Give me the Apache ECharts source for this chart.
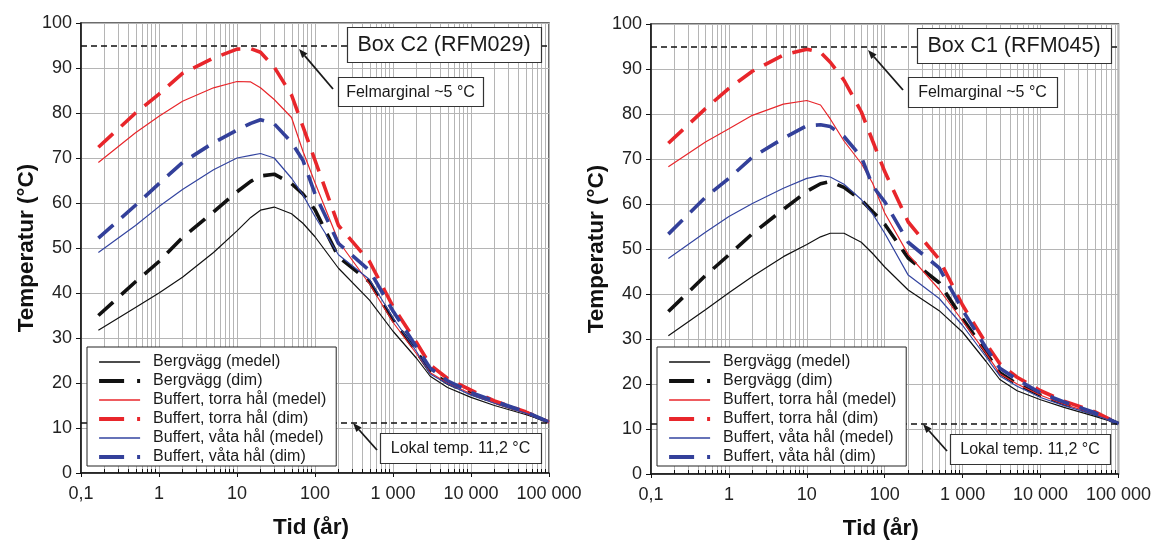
<!DOCTYPE html>
<html><head><meta charset="utf-8">
<script src="https://cdn.jsdelivr.net/npm/echarts@6/dist/echarts.min.js"></script>
<style>html,body{margin:0;padding:0;background:#fff}#c{width:1154px;height:545px}</style>
</head><body><div id="c"></div>
<script>
// ---- data ----
const times = [0.167, 0.5, 1, 2, 5, 10, 15, 20, 30, 50, 70, 100, 200, 500, 1000, 2000, 3000, 5000, 10000, 20000, 50000, 100000];
const seriesNames = ['Bergvägg (medel)', 'Bergvägg (dim)', 'Buffert, torra hål (medel)', 'Buffert, torra hål (dim)', 'Buffert, våta hål (medel)', 'Buffert, våta hål (dim)'];
const chartTitles = ['Box C2 (RFM029)', 'Box C1 (RFM045)'];
const xTickLabels = ['0,1', '1', '10', '100', '1 000', '10 000', '100 000'];
const errorMarginLevel = 95;
const localTempLevel = 11.2;

// Box C2 (RFM029)
const bergMedelC2 = [31.7, 36.8, 40.0, 43.5, 49.0, 53.8, 56.8, 58.4, 59.1, 57.6, 55.5, 52.5, 45.5, 38.4, 31.5, 25.5, 21.5, 19.0, 16.8, 15.0, 13.0, 11.3];
const bergDimC2   = [35.0, 42.5, 47.0, 52.3, 58.0, 62.5, 64.8, 66.0, 66.4, 64.3, 62.0, 58.5, 48.0, 42.5, 34.0, 27.0, 22.5, 20.0, 17.7, 15.8, 13.5, 11.3];
const torrMedelC2 = [69.0, 75.6, 79.3, 82.6, 85.6, 87.0, 86.9, 85.6, 83.0, 79.0, 71.5, 64.5, 51.5, 42.0, 33.5, 26.5, 22.3, 20.0, 17.6, 15.5, 13.3, 11.3];
const torrDimC2   = [72.4, 80.0, 84.2, 88.8, 92.2, 94.2, 94.3, 93.5, 90.2, 84.0, 77.0, 69.5, 55.0, 47.0, 37.0, 29.0, 24.0, 21.0, 18.4, 16.0, 13.6, 11.3];
const vataMedelC2 = [49.0, 55.0, 59.2, 63.0, 67.4, 70.0, 70.6, 71.0, 70.0, 65.5, 61.8, 57.0, 48.5, 43.0, 34.5, 27.0, 22.0, 19.8, 17.3, 15.5, 13.3, 11.3];
const vataDimC2   = [52.2, 59.5, 64.3, 69.0, 73.4, 76.2, 77.7, 78.5, 77.6, 73.5, 69.5, 62.0, 51.0, 45.0, 36.0, 28.0, 23.3, 20.5, 17.9, 16.0, 13.6, 11.3];

// Box C1 (RFM045)
const bergMedelC1 = [30.7, 36.5, 40.3, 43.9, 48.3, 51.0, 52.7, 53.5, 53.5, 51.5, 49.0, 46.0, 40.9, 36.3, 31.5, 25.0, 21.0, 18.5, 16.5, 14.8, 12.8, 11.2];
const bergDimC1   = [36.1, 44.1, 48.7, 53.4, 58.8, 62.8, 64.5, 65.0, 63.7, 60.9, 58.3, 55.5, 48.0, 42.5, 34.5, 27.0, 22.5, 20.0, 17.5, 15.6, 13.4, 11.2];
const torrMedelC1 = [68.3, 73.8, 76.7, 79.7, 82.2, 83.0, 82.0, 78.9, 74.0, 69.0, 64.6, 58.0, 48.8, 41.0, 34.0, 26.8, 22.3, 20.0, 17.5, 15.5, 13.3, 11.2];
const torrDimC1   = [73.5, 81.2, 85.7, 89.5, 93.1, 94.4, 93.7, 91.5, 87.5, 80.5, 74.0, 67.2, 56.0, 47.7, 37.5, 29.0, 24.5, 21.5, 18.5, 16.2, 13.8, 11.2];
const vataMedelC1 = [47.9, 53.7, 57.2, 60.1, 63.5, 65.7, 66.3, 66.0, 64.4, 61.0, 57.8, 53.5, 44.2, 39.0, 33.0, 26.0, 21.8, 19.5, 17.0, 15.2, 13.1, 11.2];
const vataDimC1   = [53.3, 61.5, 65.7, 70.4, 74.6, 77.4, 77.6, 77.2, 75.0, 70.5, 64.0, 60.5, 51.5, 45.8, 36.4, 28.0, 23.5, 21.0, 18.0, 16.0, 13.6, 11.2];

const panels = [
  [bergMedelC2, bergDimC2, torrMedelC2, torrDimC2, vataMedelC2, vataDimC2],
  [bergMedelC1, bergDimC1, torrMedelC1, torrDimC1, vataMedelC1, vataDimC1]
];

// ---- styles ----
const FONT = 'Liberation Sans, Arial, sans-serif';
const colors = ['#111111', '#111111', '#e8262b', '#e8262b', '#3344a0', '#33409a'];
const dims = [false, true, false, true, false, true];
const gridPos = [{left: 81, top: 23}, {left: 651, top: 24}];
const GW = 468, GH = 450;

// minor log ticks (2..9 in each decade)
const minorVals = [];
for (let e = -1; e <= 4; e++) for (let k = 2; k <= 9; k++) minorVals.push(+(k * Math.pow(10, e)).toPrecision(3));

const chart = echarts.init(document.getElementById('c'), null, {renderer: 'canvas'});

const legendData = seriesNames.map((name, si) => dims[si]
  ? {name, lineStyle: {type: [25, 13, 3, 10], width: 4.2, cap: 'butt'}}
  : {name, lineStyle: {width: 1.3}});

const grids = [], xAxes = [], yAxes = [], series = [], legends = [];
[0, 1].forEach(gi => {
  grids.push({left: gridPos[gi].left, top: gridPos[gi].top, width: GW, height: GH, show: true,
    borderColor: '#3c3c3c', borderWidth: 1.5, backgroundColor: 'transparent'});
  xAxes.push({type: 'log', logBase: 10, min: 0.1, max: 100000, gridIndex: gi,
    name: 'Tid (år)', nameLocation: 'middle', nameGap: 43,
    nameTextStyle: {fontFamily: FONT, fontSize: 22.5, fontWeight: 'bold', color: '#111', padding: [0, 8, 0, 0]},
    axisLine: {show: true, onZero: false, lineStyle: {color: '#111', width: 1.5}},
    axisTick: {show: true, length: 4, inside: false, lineStyle: {color: '#111'}},
    axisLabel: {fontFamily: FONT, fontSize: 18, color: '#222', margin: 12,
      formatter: v => xTickLabels[Math.round(Math.log10(v)) + 1]},
    splitLine: {show: true, lineStyle: {color: '#b5b5b5', width: 1}}
  });
  yAxes.push({type: 'value', min: 0, max: 100, interval: 10, gridIndex: gi,
    name: 'Temperatur (°C)', nameLocation: 'middle', nameGap: 43, nameRotate: 90,
    nameTextStyle: {fontFamily: FONT, fontSize: 22.5, fontWeight: 'bold', color: '#111'},
    axisLine: {show: true, lineStyle: {color: '#111', width: 1.5}},
    axisTick: {show: true, length: 5, inside: false, lineStyle: {color: '#111'}},
    axisLabel: {fontFamily: FONT, fontSize: 18, color: '#222', margin: 9},
    splitLine: {show: true, lineStyle: {color: '#b5b5b5', width: 1}}
  });
  // minor grid lines + small inner ticks
  series.push({type: 'custom', xAxisIndex: gi, yAxisIndex: gi, silent: true, z: 1,
    data: minorVals.map(v => [v, 0]),
    renderItem: (params, api) => {
      const v = api.value(0);
      const p0 = api.coord([v, 0]), p1 = api.coord([v, 100]);
      const x = Math.round(p0[0]) + 0.5;
      return {type: 'group', children: [
        {type: 'line', shape: {x1: x, y1: p0[1], x2: x, y2: p1[1]}, style: {stroke: '#b5b5b5', lineWidth: 1}},
        {type: 'line', shape: {x1: x, y1: p0[1], x2: x, y2: p0[1] - 4}, style: {stroke: '#111', lineWidth: 1}}
      ]};
    }
  });
  // reference levels
  series.push({type: 'line', xAxisIndex: gi, yAxisIndex: gi, data: [], silent: true, z: 2,
    markLine: {silent: true, symbol: 'none', label: {show: false}, animation: false,
      lineStyle: {color: '#111', width: 1.6, type: [6, 4]},
      data: [{yAxis: errorMarginLevel}, {yAxis: localTempLevel}]}
  });
  panels[gi].forEach((vals, si) => {
    series.push({name: seriesNames[si], type: 'line', xAxisIndex: gi, yAxisIndex: gi, z: 3,
      data: times.map((t, i) => [t, vals[i]]), symbol: 'none', silent: true,
      lineStyle: {color: colors[si], width: dims[si] ? 3.6 : 1.2, type: dims[si] ? [20, 11] : 'solid', cap: 'butt'},
      itemStyle: {color: colors[si]}
    });
  });
  legends.push({orient: 'vertical', left: gridPos[gi].left + 6, top: 347, data: legendData,
    itemWidth: 41, itemHeight: 14, itemGap: 3, padding: [7, 10, 1, 10],
    backgroundColor: '#fff', borderColor: '#222', borderWidth: 1, selectedMode: false, z: 6,
    itemStyle: {opacity: 0},
    textStyle: {fontFamily: FONT, fontSize: 16, color: '#1a1a1a', padding: [0, 0, 0, 8]}
  });
});

// annotation helpers (pixel layout of the text boxes)
const ZA = 100;
function box(x, y, w, h, text, fs) {
  return {type: 'group', z: ZA, children: [
    {type: 'rect', z: ZA, shape: {x: x + 0.5, y: y + 0.5, width: w, height: h}, style: {fill: '#fff', stroke: '#333', lineWidth: 1.2}},
    {type: 'text', z: ZA + 1, x: x + w / 2, y: y + h / 2 + 1, style: {text, fontFamily: FONT, fontSize: fs, fill: '#1a1a1a', align: 'center', verticalAlign: 'middle'}}
  ]};
}
function arrow(x1, y1, x2, y2) {
  const a = Math.atan2(y2 - y1, x2 - x1), L = 9, W = 3.5;
  const bx = x2 - L * Math.cos(a), by = y2 - L * Math.sin(a);
  const nx = -Math.sin(a) * W, ny = Math.cos(a) * W;
  return {type: 'group', z: ZA, children: [
    {type: 'line', z: ZA, shape: {x1, y1, x2: bx, y2: by}, style: {stroke: '#1a1a1a', lineWidth: 1.8}},
    {type: 'polygon', z: ZA, shape: {points: [[x2, y2], [bx + nx, by + ny], [bx - nx, by - ny]]}, style: {fill: '#1a1a1a'}}
  ]};
}
const graphics = [
  box(347, 27, 194, 35, chartTitles[0], 21.5),
  box(338, 77, 145, 29, 'Felmarginal ~5 °C', 16),
  arrow(333, 89, 299, 49),
  box(380, 433, 161, 30, 'Lokal temp. 11,2 °C', 16),
  arrow(377, 450, 353, 423),
  box(917, 28, 194, 35, chartTitles[1], 21.5),
  box(908, 77, 149, 30, 'Felmarginal ~5 °C', 16),
  arrow(903, 90, 868, 50),
  box(950, 434, 160, 30, 'Lokal temp. 11,2 °C', 16),
  arrow(947, 451, 923, 424)
];

chart.setOption({
  animation: false,
  backgroundColor: '#fff',
  grid: grids, xAxis: xAxes, yAxis: yAxes, series, legend: legends, graphic: graphics
});
</script></body></html>
